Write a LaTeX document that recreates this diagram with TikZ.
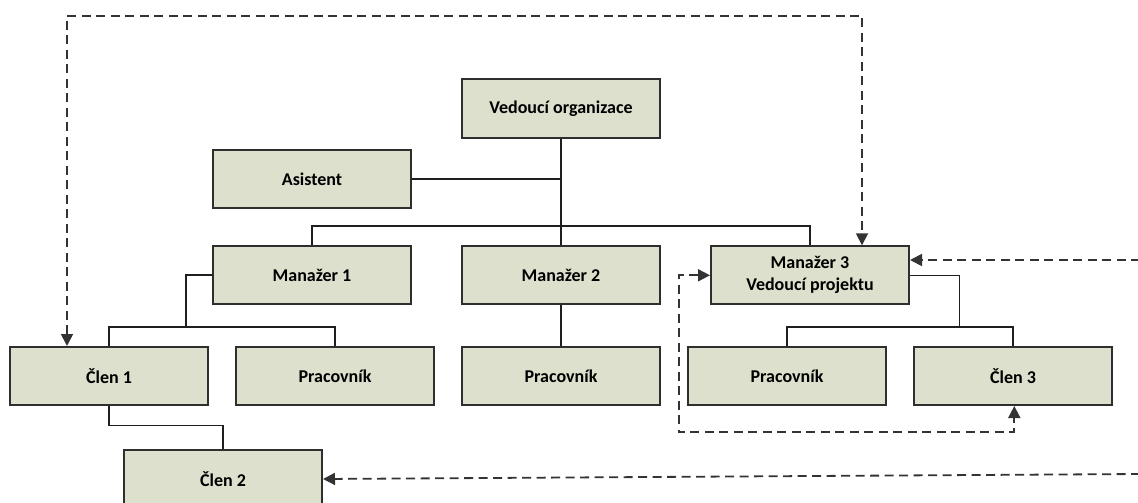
\documentclass[tikz,border=0pt]{standalone}
\usepackage{fontspec}
\setmainfont{Carlito}
\usetikzlibrary{arrows.meta}
\definecolor{boxfill}{HTML}{DDE0CC}
\definecolor{boxline}{HTML}{2E2E2E}
\definecolor{dashline}{HTML}{333333}
\tikzset{
  orgbox/.style={draw=boxline, line width=2pt, fill=boxfill,
    minimum width=198pt, minimum height=58pt, inner sep=0pt,
    align=center, font=\fontsize{18}{22}\selectfont\bfseries},
  link/.style={draw=black!88, line width=1.6pt},
  relation/.style={draw=dashline, line width=1.8pt, dash pattern=on 9pt off 5.5pt,
    arrows={-Triangle[length=12pt,width=12pt]}},
  mutual/.style={relation, arrows={Triangle[length=12pt,width=12pt]-Triangle[length=12pt,width=12pt]}}
}
\begin{document}
\begin{tikzpicture}[x=1pt, y=-1pt]
  \useasboundingbox (0,0) rectangle (1138,503);
  \clip (0,0) rectangle (1138,503);

  % organisation boxes
  \node[orgbox] (vo) at (561,108.5) {Vedoucí organizace};
  \node[orgbox] (as) at (312,179) {Asistent};
  \node[orgbox] (m1) at (312,275) {Manažer 1};
  \node[orgbox] (m2) at (561,275) {Manažer 2};
  \node[orgbox] (m3) at (810,275.3) {Manažer 3\\Vedoucí projektu};
  \node[orgbox] (c1) at (109,376) {Člen 1};
  \node[orgbox] (p1) at (335,376) {Pracovník};
  \node[orgbox] (p2) at (561,376) {Pracovník};
  \node[orgbox] (p3) at (787,376) {Pracovník};
  \node[orgbox] (c3) at (1013,376) {Člen 3};
  \node[orgbox] (c2) at (223,479) {Člen 2};

  % junction points of the hierarchy
  \coordinate (j1) at (185.7,327.7);
  \coordinate (j3) at (959.3,327.7);

  % line hierarchy
  \draw[link] (vo.south) -- (m2.north);
  \draw[link] (as.east) -- (as.east -| vo.south);
  \draw[link] (m1.north) -- ++(0,-19) -| (m3.north);
  \draw[link] (m1.west) -| (j1);
  \draw[link] (c1.north) -- ++(0,-19) -| (p1.north);
  \draw[link] (c1.south) -- ++(0,19.3) -| (c2.north);
  \draw[link] (m2.south) -- (p2.north);
  \draw[link] (m3.east) -| (j3);
  \draw[link] (p3.north) -- ++(0,-19) -| (c3.north);

  % project relations
  \coordinate (t1) at (67,15.7);
  \coordinate (t2) at (862,15.7);
  \coordinate (r1) at (1140,260);
  \coordinate (l1) at (678.7,432.3);
  \coordinate (l2) at (1014.3,432.3);
  \coordinate (b1) at (1140,474);

  \draw[mutual] (t1 |- c1.north) -- (t1) -- (t2) -- (t2 |- m3.north);
  \draw[relation] (r1) -- (r1 -| m3.east);
  \draw[mutual] (m3.west) -| (l1) -- (l2) -- (l2 |- c3.south);
  \draw[relation] (b1) -- (c2.east);
\end{tikzpicture}
\end{document}
